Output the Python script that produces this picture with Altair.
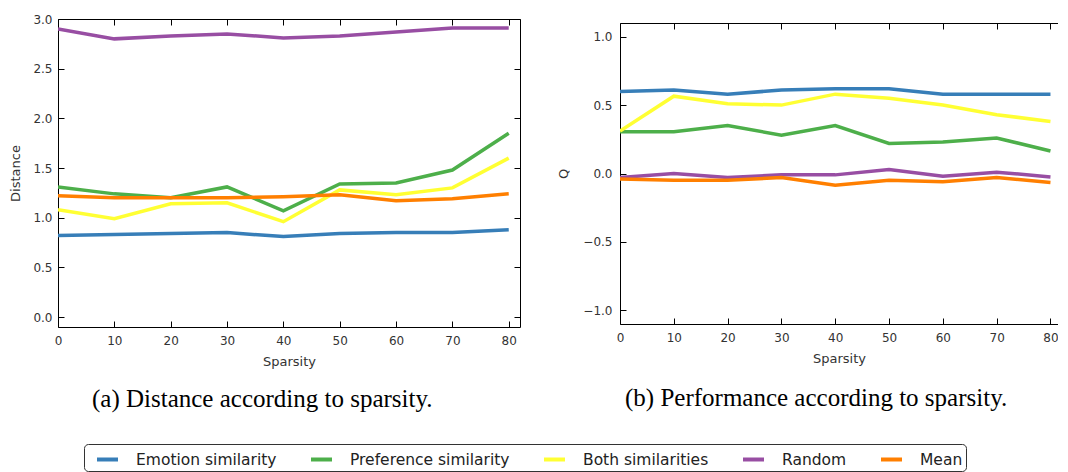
import altair as alt
import pandas as pd

sparsity = [0, 10, 20, 30, 40, 50, 60, 70, 80]
series = ["Emotion similarity", "Preference similarity", "Both similarities", "Random", "Mean"]
colors = ["#377eb8", "#4daf4a", "#ffff33", "#984ea3", "#ff7f00"]

dist_emotion = [0.82, 0.83, 0.84, 0.85, 0.81, 0.84, 0.85, 0.85, 0.88]
dist_preference = [1.31, 1.24, 1.20, 1.31, 1.07, 1.34, 1.35, 1.48, 1.85]
dist_both = [1.08, 0.99, 1.14, 1.15, 0.96, 1.28, 1.23, 1.30, 1.60]
dist_random = [2.90, 2.80, 2.83, 2.85, 2.81, 2.83, 2.87, 2.91, 2.91]
dist_mean = [1.22, 1.20, 1.20, 1.20, 1.21, 1.23, 1.17, 1.19, 1.24]

q_emotion = [0.60, 0.61, 0.58, 0.61, 0.62, 0.62, 0.58, 0.58, 0.58]
q_preference = [0.305, 0.305, 0.35, 0.28, 0.35, 0.22, 0.23, 0.26, 0.165]
q_both = [0.31, 0.565, 0.51, 0.50, 0.58, 0.55, 0.50, 0.43, 0.38]
q_random = [-0.03, 0.0, -0.03, -0.01, -0.01, 0.03, -0.02, 0.01, -0.025]
q_mean = [-0.04, -0.05, -0.05, -0.03, -0.085, -0.05, -0.06, -0.03, -0.065]

x_ticks = [0, 10, 20, 30, 40, 50, 60, 70, 80]
dist_ticks = [0.0, 0.5, 1.0, 1.5, 2.0, 2.5, 3.0]
q_ticks = [-1.0, -0.5, 0.0, 0.5, 1.0]

caption_a = "(a) Distance according to sparsity."
caption_b = "(b) Performance according to sparsity."


def long_frame(cols):
    rows = []
    for name, vals in zip(series, cols):
        for s, v in zip(sparsity, vals):
            rows.append({"Sparsity": s, "value": v, "series": name})
    return pd.DataFrame(rows)


df_dist = long_frame([dist_emotion, dist_preference, dist_both, dist_random, dist_mean])
df_q = long_frame([q_emotion, q_preference, q_both, q_random, q_mean])

legend = alt.Legend(
    orient="none", legendX=26, legendY=425, direction="horizontal", gridAlign="none",
    title=None, symbolType="stroke", symbolStrokeWidth=4, symbolSize=441,
    symbolOffset=8, labelFontSize=15.5, labelFont="DejaVu Sans", labelColor="#222",
    columnPadding=24, labelOffset=16, padding=3, strokeColor="#333",
    fillColor="white", cornerRadius=4, labelLimit=400,
)

TICK = 6


def tick_axis(orient, values, **kw):
    return alt.Axis(orient=orient, values=values, offset=-TICK, tickSize=TICK,
                    domain=False, grid=False, minExtent=0, **kw)


def domain_axis(orient):
    return alt.Axis(orient=orient, ticks=False, labels=False, title=None, domain=True,
                    domainColor="black", domainWidth=1, grid=False, minExtent=0,
                    maxExtent=0)


def panel(df, ytitle, ydomain, yticks, xmax, width, height, lab_pad, title_pad,
          caption, cap_dx, cap_offset, open_right):
    xs = alt.Scale(domain=[0, xmax], nice=False, zero=False)
    ys = alt.Scale(domain=ydomain, nice=False, zero=False)
    base = alt.Chart(df)
    lines = base.mark_line(strokeWidth=3.5, clip=True).encode(
        x=alt.X("Sparsity:Q", scale=xs, axis=tick_axis(
            "bottom", x_ticks, format="d", title="Sparsity", labelPadding=8,
            titlePadding=9, labelFlush=False)),
        y=alt.Y("value:Q", scale=ys, axis=tick_axis(
            "left", yticks, format=".1f", title=ytitle, labelPadding=lab_pad,
            titlePadding=title_pad, labelFlush=False)),
        color=alt.Color("series:N", scale=alt.Scale(domain=series, range=colors),
                        legend=legend),
    )
    if open_right:
        right_y = alt.Y("value:Q", scale=ys, axis=None)
    else:
        right_y = alt.Y("value:Q", scale=ys, axis=tick_axis(
            "right", yticks, labels=False, title=None, maxExtent=0))
    frame = base.mark_line(opacity=0).encode(
        x=alt.X("Sparsity:Q", scale=xs, axis=tick_axis(
            "top", x_ticks, labels=False, title=None, maxExtent=0)),
        y=right_y,
    )
    layers = [lines, frame]
    props = dict(width=width, height=height)
    if open_right:
        dom1 = base.mark_line(opacity=0).encode(
            x=alt.X("Sparsity:Q", scale=xs, axis=domain_axis("bottom")),
            y=alt.Y("value:Q", scale=ys, axis=domain_axis("left")),
        )
        dom2 = base.mark_line(opacity=0).encode(
            x=alt.X("Sparsity:Q", scale=xs, axis=domain_axis("top")),
            y=alt.Y("value:Q", scale=ys, axis=None),
        )
        layers += [dom1, dom2]
        props["view"] = alt.ViewBackground(stroke="transparent")
    return alt.layer(*layers).resolve_axis(x="independent", y="independent").properties(
        title=alt.TitleParams(caption, orient="bottom", anchor="start", frame="group",
                              dx=cap_dx, offset=cap_offset, font="Liberation Serif",
                              fontSize=25, fontWeight="normal", color="black"),
        **props,
    )


left = panel(df_dist, "Distance", [-0.1, 3.0], dist_ticks, 82.0, 462, 308, 6, 10,
             caption_a, 34, 19, False)
right = panel(df_q, "Q", [-1.1, 1.1], q_ticks, 81.4, 438, 301, 8, 12,
              caption_b, 5, 21, True)

spacer = alt.Chart(pd.DataFrame({"v": [0]})).mark_point(opacity=0, size=1).encode(
    x=alt.value(0), y=alt.value(0)
).properties(width=10, height=2, view=alt.ViewBackground(stroke="transparent"))

right_col = alt.vconcat(spacer, right, spacing=0)

chart = alt.hconcat(left, right_col, spacing=36).resolve_scale(color="shared").properties(
    padding={"left": 1, "top": 4, "right": -1, "bottom": 0},
    background="white",
).configure_view(stroke="black", strokeWidth=1).configure_axis(
    labelFont="DejaVu Sans", labelFontSize=12, labelColor="#333",
    titleFont="DejaVu Sans", titleFontSize=13, titleFontWeight="normal", titleColor="#333",
    tickColor="black", tickWidth=1,
)

chart.save("out.html", embed_options={"renderer": "svg", "actions": False})
